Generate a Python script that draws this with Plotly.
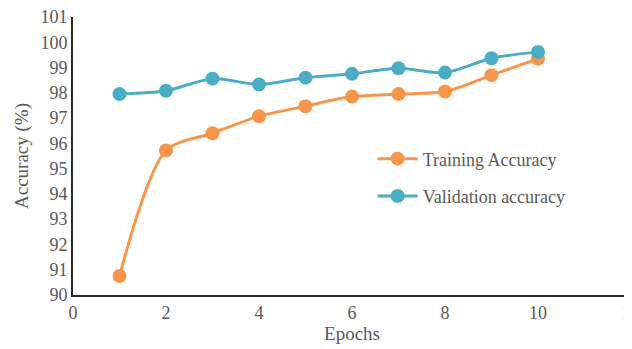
import plotly.graph_objects as go

epochs = [1, 2, 3, 4, 5, 6, 7, 8, 9, 10]
training_acc = [90.75, 95.72, 96.4, 97.07, 97.47, 97.85, 97.95, 98.05, 98.7, 99.35]
validation_acc = [97.95, 98.08, 98.56, 98.33, 98.6, 98.75, 98.97, 98.8, 99.37, 99.62]

orange = "#F7964A"
blue = "#4BACC6"
gray = "#595959"
font_family = "Liberation Serif"

fig = go.Figure()
fig.add_trace(go.Scatter(
    x=epochs, y=training_acc, name="Training Accuracy",
    mode="lines+markers", line=dict(color=orange, width=3, shape="spline", smoothing=0.8),
    marker=dict(color=orange, size=14), legendgroup="a"))
fig.add_trace(go.Scatter(
    x=epochs, y=validation_acc, name="Validation accuracy",
    mode="lines+markers", line=dict(color=blue, width=3, shape="spline", smoothing=0.8),
    marker=dict(color=blue, size=14), legendgroup="b"))

fig.update_layout(
    width=624, height=341,
    margin=dict(l=65, r=1, t=9, b=54),
    paper_bgcolor="white", plot_bgcolor="white",
    font=dict(family=font_family, size=18, color=gray),
    legend=dict(x=0.537, y=0.556, xanchor="left", yanchor="top",
                font=dict(family=font_family, size=18, color=gray),
                bgcolor="rgba(0,0,0,0)", tracegroupgap=11, itemwidth=40),
    xaxis=dict(range=[0, 12], dtick=2, tick0=0, showgrid=False, zeroline=False,
               showline=True, linecolor="#262626", linewidth=2, ticks="",
               ticklabeloverflow="allow",
               title=dict(text="Epochs", standoff=2, font=dict(size=19, color=gray)),
               automargin=False, tickfont=dict(size=18, color=gray)),
    yaxis=dict(range=[90, 101], dtick=1, tick0=90, showgrid=False, zeroline=False,
               showline=True, linecolor="#262626", linewidth=2, ticks="",
               ticklabeloverflow="allow",
               title=dict(text="Accuracy (%)", standoff=7, font=dict(size=19, color=gray)),
               automargin=False, tickfont=dict(size=18, color=gray)),
)

fig.write_html("out.html")
